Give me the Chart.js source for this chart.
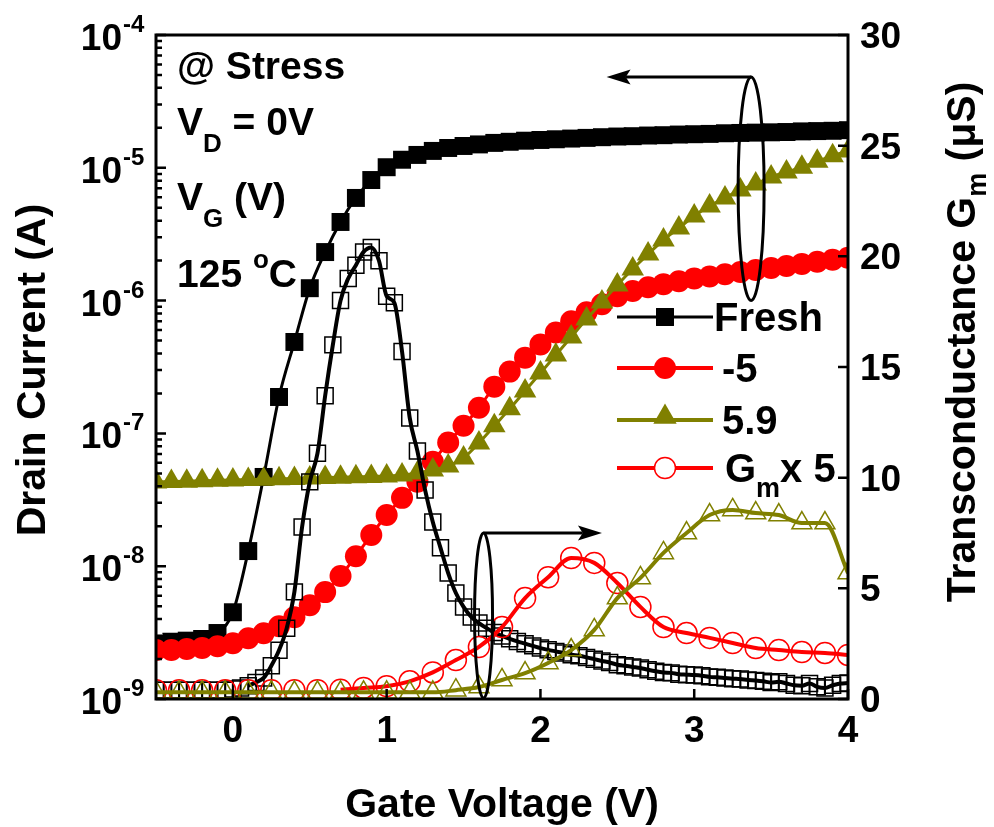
<!DOCTYPE html>
<html>
<head>
<meta charset="utf-8">
<script src="https://cdn.jsdelivr.net/npm/chart.js@4.4.0/dist/chart.umd.min.js"></script>
<style>
  html, body { margin: 0; padding: 0; background: #fff; }
  canvas { display: block; }
</style>
</head>
<body>
<canvas id="chart" width="994" height="827"></canvas>
<script>
// gate voltage of the Id-Vg sweeps (V)
const vgId = [-0.5, -0.4, -0.3, -0.2, -0.1, 0.0, 0.1, 0.2, 0.3, 0.4,
    0.5, 0.6, 0.7, 0.8, 0.9, 1.0, 1.1, 1.2, 1.3, 1.4,
    1.5, 1.6, 1.7, 1.8, 1.9, 2.0, 2.1, 2.2, 2.3, 2.4,
    2.5, 2.6, 2.7, 2.8, 2.9, 3.0, 3.1, 3.2, 3.3, 3.4,
    3.5, 3.6, 3.7, 3.8, 3.9, 4.0];

// drain current (A)
const idFresh = [2.6e-9, 2.7e-9, 2.75e-9, 2.83e-9, 3.14e-9, 4.5e-9, 1.3e-8, 4.7e-8, 1.88e-7, 4.88e-7,
    1.24e-6, 2.32e-6, 3.91e-6, 5.93e-6, 8.09e-6, 1.01e-5, 1.15e-5, 1.25e-5, 1.34e-5, 1.41e-5,
    1.46e-5, 1.50e-5, 1.54e-5, 1.57e-5, 1.60e-5, 1.62e-5, 1.64e-5, 1.66e-5, 1.68e-5, 1.70e-5,
    1.72e-5, 1.73e-5, 1.75e-5, 1.76e-5, 1.78e-5, 1.79e-5, 1.80e-5, 1.82e-5, 1.83e-5, 1.84e-5,
    1.85e-5, 1.86e-5, 1.88e-5, 1.89e-5, 1.90e-5, 1.92e-5];
const idM5 = [2.34e-9, 2.34e-9, 2.38e-9, 2.42e-9, 2.50e-9, 2.63e-9, 2.87e-9, 3.13e-9, 3.53e-9, 4.13e-9,
    5.08e-9, 6.38e-9, 8.43e-9, 1.19e-8, 1.72e-8, 2.43e-8, 3.27e-8, 4.32e-8, 6.12e-8, 8.53e-8,
    1.14e-7, 1.56e-7, 2.25e-7, 2.92e-7, 3.72e-7, 4.67e-7, 5.76e-7, 6.98e-7, 8.17e-7, 9.38e-7,
    1.08e-6, 1.18e-6, 1.26e-6, 1.33e-6, 1.40e-6, 1.47e-6, 1.52e-6, 1.58e-6, 1.64e-6, 1.70e-6,
    1.76e-6, 1.82e-6, 1.89e-6, 1.96e-6, 2.03e-6, 2.10e-6];
const id59 = [4.31e-8, 4.34e-8, 4.37e-8, 4.40e-8, 4.43e-8, 4.46e-8, 4.49e-8, 4.52e-8, 4.55e-8, 4.58e-8,
    4.62e-8, 4.65e-8, 4.68e-8, 4.71e-8, 4.74e-8, 4.78e-8, 4.86e-8, 5.04e-8, 5.30e-8, 5.69e-8,
    6.53e-8, 8.47e-8, 1.14e-7, 1.53e-7, 2.09e-7, 2.85e-7, 3.89e-7, 5.32e-7, 7.27e-7, 9.75e-7,
    1.31e-6, 1.73e-6, 2.24e-6, 2.86e-6, 3.52e-6, 4.34e-6, 5.15e-6, 5.93e-6, 6.81e-6, 7.55e-6,
    8.53e-6, 9.29e-6, 1.01e-5, 1.12e-5, 1.23e-5, 1.34e-5];

// fresh transconductance, finer gate step (V) and uS
const vgGmFresh = [-0.5, -0.45, -0.4, -0.35, -0.3, -0.25, -0.2, -0.15, -0.1, -0.05,
    0.0, 0.05, 0.1, 0.15, 0.2, 0.25, 0.3, 0.35, 0.4, 0.45,
    0.5, 0.55, 0.6, 0.65, 0.7, 0.75, 0.8, 0.85, 0.9, 0.95,
    1.0, 1.05, 1.1, 1.15, 1.2, 1.25, 1.3, 1.35, 1.4, 1.45,
    1.5, 1.55, 1.6, 1.65, 1.7, 1.75, 1.8, 1.85, 1.9, 1.95,
    2.0, 2.05, 2.1, 2.15, 2.2, 2.25, 2.3, 2.35, 2.4, 2.45,
    2.5, 2.55, 2.6, 2.65, 2.7, 2.75, 2.8, 2.85, 2.9, 2.95,
    3.0, 3.05, 3.1, 3.15, 3.2, 3.25, 3.3, 3.35, 3.4, 3.45,
    3.5, 3.55, 3.6, 3.65, 3.7, 3.75, 3.8, 3.85, 3.9, 3.95,
    4.0];
const gmFresh = [0.4, 0.4, 0.4, 0.4, 0.4, 0.4, 0.4, 0.4, 0.4, 0.4,
    0.45, 0.5, 0.6, 0.75, 0.95, 1.5, 2.2, 3.2, 4.84, 7.77,
    9.81, 11.1, 13.7, 16.0, 18.0, 19.0, 19.6, 20.2, 20.4, 19.8,
    18.2, 17.9, 15.7, 12.7, 11.2, 9.44, 8.0, 6.83, 5.69, 4.79,
    4.16, 3.71, 3.43, 3.2, 3.0, 2.85, 2.72, 2.6, 2.5, 2.4,
    2.3, 2.22, 2.15, 2.08, 2.0, 1.95, 1.88, 1.8, 1.72, 1.65,
    1.55, 1.5, 1.45, 1.4, 1.32, 1.25, 1.2, 1.18, 1.12, 1.1,
    1.08, 1.05, 1.0, 0.98, 0.95, 0.92, 0.9, 0.86, 0.84, 0.8,
    0.74, 0.78, 0.7, 0.62, 0.6, 0.7, 0.55, 0.5, 0.62, 0.7,
    0.72];

// stressed transconductance x 5 (uS)
const vgGm = [-0.5, -0.35, -0.2, -0.05, 0.1, 0.25, 0.4, 0.55, 0.7, 0.85,
    1.0, 1.15, 1.3, 1.45, 1.6, 1.75, 1.9, 2.05, 2.2, 2.35,
    2.5, 2.65, 2.8, 2.95, 3.1, 3.25, 3.4, 3.55, 3.7, 3.85, 4.0];
const gmM5 = [0.4, 0.4, 0.4, 0.4, 0.4, 0.4, 0.4, 0.4, 0.42, 0.5,
    0.58, 0.8, 1.2, 1.76, 2.35, 3.25, 4.56, 5.5, 6.37, 6.15,
    5.24, 4.16, 3.25, 2.98, 2.76, 2.53, 2.3, 2.21, 2.12, 2.08, 1.99];
const gm59 = [0.3, 0.3, 0.3, 0.3, 0.3, 0.3, 0.3, 0.3, 0.3, 0.3,
    0.3, 0.3, 0.3, 0.4, 0.54, 0.86, 1.17, 1.63, 2.21, 3.12,
    4.56, 5.47, 6.6, 7.5, 8.31, 8.54, 8.4, 8.31, 7.95, 7.95, 5.69];

const xTicks = [0, 1, 2, 3, 4];
const leftExps = [-9, -8, -7, -6, -5, -4];
const rightTicks = [0, 5, 10, 15, 20, 25, 30];

const OLIVE = '#808000';
const RED = '#ff0000';
const FONT = '"Liberation Sans", Arial, Helvetica, sans-serif';

function pts(xs, ys) {
    return xs.map(function (x, i) { return { x: x, y: ys[i] }; });
}

function marker(ctx, type, x, y, r, fill, stroke, lw) {
    ctx.beginPath();
    if (type === 'rect') {
        const s = r * Math.SQRT1_2;
        ctx.rect(x - s, y - s, 2 * s, 2 * s);
    } else if (type === 'circle') {
        ctx.arc(x, y, r, 0, 2 * Math.PI);
    } else {
        ctx.moveTo(x, y - r);
        ctx.lineTo(x + r * Math.sin(2 * Math.PI / 3), y - r * Math.cos(2 * Math.PI / 3));
        ctx.lineTo(x + r * Math.sin(4 * Math.PI / 3), y - r * Math.cos(4 * Math.PI / 3));
        ctx.closePath();
    }
    if (fill) { ctx.fillStyle = fill; ctx.fill(); }
    if (stroke) { ctx.strokeStyle = stroke; ctx.lineWidth = lw; ctx.stroke(); }
}

// text with sub/superscript pieces: [text, size, dy]
function richText(ctx, parts, x, y) {
    parts.forEach(function (p) {
        ctx.font = 'bold ' + p[1] + 'px ' + FONT;
        ctx.fillText(p[0], x, y + p[2]);
        x += ctx.measureText(p[0]).width;
    });
    return x;
}

function richWidth(ctx, parts) {
    let w = 0;
    parts.forEach(function (p) {
        ctx.font = 'bold ' + p[1] + 'px ' + FONT;
        w += ctx.measureText(p[0]).width;
    });
    return w;
}

function arrow(ctx, x1, x2, y, headLen, headW) {
    const dir = Math.sign(x2 - x1);
    ctx.beginPath();
    ctx.moveTo(x1, y);
    ctx.lineTo(x2 - dir * headLen * 0.8, y);
    ctx.stroke();
    ctx.beginPath();
    ctx.moveTo(x2, y);
    ctx.lineTo(x2 - dir * headLen, y - headW);
    ctx.lineTo(x2 - dir * headLen * 0.8, y);
    ctx.lineTo(x2 - dir * headLen, y + headW);
    ctx.closePath();
    ctx.fill();
}

const decorations = {
    id: 'decorations',
    afterDraw: function (chart) {
        const ctx = chart.ctx;
        const a = chart.chartArea;
        const xs = chart.scales.x, yl = chart.scales.y, yr = chart.scales.y2;
        ctx.save();
        ctx.fillStyle = '#000';
        ctx.strokeStyle = '#000';

        // frame
        ctx.lineWidth = 3;
        ctx.strokeRect(a.left, a.top, a.right - a.left, a.bottom - a.top);

        // ticks, pointing inwards
        ctx.lineWidth = 2.5;
        ctx.beginPath();
        xTicks.forEach(function (v) {
            const px = xs.getPixelForValue(v);
            ctx.moveTo(px, a.bottom); ctx.lineTo(px, a.bottom - 10);
        });
        leftExps.forEach(function (e) {
            const py = yl.getPixelForValue(Math.pow(10, e));
            ctx.moveTo(a.left, py); ctx.lineTo(a.left + 10, py);
            if (e < -4) {
                for (let m = 2; m <= 9; m++) {
                    const q = yl.getPixelForValue(m * Math.pow(10, e));
                    ctx.moveTo(a.left, q); ctx.lineTo(a.left + 6, q);
                }
            }
        });
        rightTicks.forEach(function (v) {
            const py = yr.getPixelForValue(v);
            ctx.moveTo(a.right, py); ctx.lineTo(a.right - 10, py);
        });
        ctx.stroke();

        // tick labels
        ctx.textBaseline = 'alphabetic';
        ctx.font = 'bold 37px ' + FONT;
        ctx.textAlign = 'center';
        xTicks.forEach(function (v) {
            ctx.fillText(String(v), xs.getPixelForValue(v), a.bottom + 43);
        });
        ctx.textAlign = 'left';
        rightTicks.forEach(function (v) {
            ctx.fillText(String(v), a.right + 12, yr.getPixelForValue(v) + 13);
        });
        leftExps.forEach(function (e) {
            const py = yl.getPixelForValue(Math.pow(10, e));
            ctx.font = 'bold 37px ' + FONT;
            ctx.textAlign = 'right';
            ctx.fillText('10', a.left - 34, py + 15);
            ctx.font = 'bold 24px ' + FONT;
            ctx.textAlign = 'left';
            ctx.fillText(String(e), a.left - 33, py - 3);
        });

        // axis titles
        ctx.font = 'bold 41px ' + FONT;
        ctx.textAlign = 'center';
        ctx.fillText('Gate Voltage (V)', (a.left + a.right) / 2, 817);
        ctx.save();
        ctx.translate(45, (a.top + a.bottom) / 2 + 3);
        ctx.rotate(-Math.PI / 2);
        ctx.fillText('Drain Current (A)', 0, 0);
        ctx.restore();

        const rt = [['Transconductance G', 41, 0], ['m', 27, 11], [' (\u03bcS)', 41, 0]];
        ctx.save();
        ctx.translate(975, (a.top + a.bottom) / 2 - 25);
        ctx.rotate(-Math.PI / 2);
        ctx.textAlign = 'left';
        richText(ctx, rt, -richWidth(ctx, rt) / 2, 0);
        ctx.restore();

        // condition notes
        ctx.textAlign = 'left';
        const nx = a.left + 21;
        richText(ctx, [['@ Stress', 39, 0]], nx, 79);
        richText(ctx, [['V', 39, 0], ['D', 26, 17], [' = 0V', 39, 0]], nx, 135);
        richText(ctx, [['V', 39, 0], ['G', 26, 17], [' (V)', 39, 0]], nx, 210);
        richText(ctx, [['125 ', 39, 0], ['o', 26, -19], ['C', 39, 0]], nx, 287);

        // ellipses with arrows to the axes
        ctx.lineWidth = 3;
        const e1x = xs.getPixelForValue(3.37);
        const e1t = yr.getPixelForValue(28.1), e1b = yr.getPixelForValue(18.0);
        ctx.beginPath();
        ctx.ellipse(e1x, (e1t + e1b) / 2, 13, (e1b - e1t) / 2, 0, 0, 2 * Math.PI);
        ctx.stroke();
        arrow(ctx, e1x, xs.getPixelForValue(2.43), e1t, 24, 7.5);

        const e2x = xs.getPixelForValue(1.63);
        const e2t = yr.getPixelForValue(7.5), e2b = yr.getPixelForValue(0.05);
        ctx.beginPath();
        ctx.ellipse(e2x, (e2t + e2b) / 2, 9, (e2b - e2t) / 2, 0, 0, 2 * Math.PI);
        ctx.stroke();
        arrow(ctx, e2x, xs.getPixelForValue(2.40), e2t, 24, 7.5);

        // legend
        const lx1 = 617, lx2 = 713, mx = 665;
        const rows = [
            { y: 317, color: '#000', lw: 3, type: 'rect', r: 12.7, fill: '#000', stroke: null, text: [['Fresh', 40, 0]], tx: 714 },
            { y: 368, color: RED, lw: 4, type: 'circle', r: 11, fill: RED, stroke: null, text: [['-5', 40, 0]], tx: 722 },
            { y: 420, color: OLIVE, lw: 4, type: 'triangle', r: 13.5, fill: OLIVE, stroke: null, text: [['5.9', 40, 0]], tx: 722 },
            { y: 468, color: RED, lw: 4, type: 'circle', r: 10.5, fill: '#fff', stroke: RED, text: [['G', 40, 0], ['m', 27, 15], ['x 5', 40, 0]], tx: 725 }
        ];
        rows.forEach(function (r) {
            ctx.strokeStyle = r.color;
            ctx.lineWidth = r.lw;
            ctx.beginPath();
            ctx.moveTo(lx1, r.y); ctx.lineTo(lx2, r.y);
            ctx.stroke();
            marker(ctx, r.type, mx, r.y - (r.type === 'triangle' ? 3 : 0), r.r, r.fill, r.stroke, 1.5);
            ctx.fillStyle = '#000';
            richText(ctx, r.text, r.tx, r.y + 14);
        });
        ctx.restore();
    }
};

function idSet(label, xs, ys, color, style, radius, order) {
    return {
        label: label, data: pts(xs, ys), yAxisID: 'y', order: order,
        borderColor: color, borderWidth: 3, cubicInterpolationMode: 'monotone',
        pointStyle: style, pointRadius: radius, pointBackgroundColor: color,
        pointBorderColor: color, pointBorderWidth: 0, clip: 0
    };
}

// the fitted Gm lines only start where the curve leaves the floor
function gmSet(label, xs, ys, color, style, radius, order, lineFrom) {
    return {
        label: label, data: pts(xs, ys), yAxisID: 'y2', order: order,
        borderColor: color, borderWidth: 4, cubicInterpolationMode: 'monotone',
        segment: {
            borderColor: function (c) { return c.p1.parsed.x <= lineFrom ? 'rgba(0,0,0,0)' : color; }
        },
        pointStyle: style, pointRadius: radius, pointBackgroundColor: 'rgba(0,0,0,0)',
        pointBorderColor: color, pointBorderWidth: 1.5, clip: 0
    };
}

new Chart(document.getElementById('chart'), {
    type: 'line',
    data: {
        datasets: [
            idSet('Fresh', vgId, idFresh, '#000', 'rect', 12.7, 6),
            idSet('-5', vgId, idM5, RED, 'circle', 11, 5),
            idSet('5.9', vgId, id59, OLIVE, 'triangle', 13, 4),
            gmSet('Gm Fresh', vgGmFresh, gmFresh, '#000', 'rect', 11.3, 3, 0.1),
            gmSet('Gm -5 x 5', vgGm, gmM5, RED, 'circle', 10.5, 2, 0.7),
            gmSet('Gm 5.9 x 5', vgGm, gm59, OLIVE, 'triangle', 11.5, 1, -1)
        ]
    },
    options: {
        responsive: false,
        animation: false,
        layout: { padding: { top: 35, left: 0, right: 0, bottom: 0 } },
        plugins: { legend: { display: false }, tooltip: { enabled: false } },
        scales: {
            x: {
                type: 'linear', min: -0.5, max: 4,
                grid: { display: false }, border: { display: false }, ticks: { display: false },
                afterFit: function (s) { s.height = 128; }
            },
            y: {
                type: 'logarithmic', position: 'left', min: 1e-9, max: 1e-4,
                grid: { display: false }, border: { display: false }, ticks: { display: false },
                afterFit: function (s) { s.width = 156; }
            },
            y2: {
                type: 'linear', position: 'right', min: 0, max: 30,
                grid: { display: false }, border: { display: false }, ticks: { display: false },
                afterFit: function (s) { s.width = 146; }
            }
        }
    },
    plugins: [decorations]
});
</script>
</body>
</html>
